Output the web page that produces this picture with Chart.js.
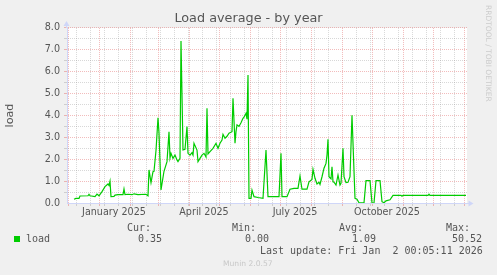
<!DOCTYPE html>
<html>
<head>
<meta charset="utf-8">
<script src="https://cdn.jsdelivr.net/npm/chart.js@4.4.1/dist/chart.umd.min.js"></script>
<style>
  html, body { margin: 0; padding: 0; background: #f0f0f0; }
  #wrap { position: relative; width: 497px; height: 275px; overflow: hidden; background: #f0f0f0; }
  #chart { position: absolute; left: 0; top: 0; }
  .t { position: absolute; font-family: "DejaVu Sans Mono", monospace; font-size: 10px; line-height: 10px; color: #555; white-space: pre; }
  .sq { position: absolute; left: 14px; top: 236px; width: 6px; height: 6px; background: #00cc00; }
  .munin { position: absolute; left: 223px; top: 259px; font-family: "DejaVu Sans", sans-serif; font-size: 7.6px; line-height: 10px; color: #c8c8c8; white-space: pre; }
  .rrd { position: absolute; left: 483px; top: 5px; writing-mode: vertical-rl; font-family: "DejaVu Sans", sans-serif; font-size: 7.5px; line-height: 10px; color: #cccccc; white-space: pre; }
</style>
</head>
<body>
<div id="wrap">
  <canvas id="chart" width="497" height="275"></canvas>
  <div class="rrd">RRDTOOL / TOBI OETIKER</div>
  <div class="sq"></div>
  <div class="t" style="left:26px;top:234px">load</div>
  <div class="t" style="left:127px;top:223px">Cur:</div>
  <div class="t" style="left:232px;top:223px">Min:</div>
  <div class="t" style="left:339px;top:223px">Avg:</div>
  <div class="t" style="left:446px;top:223px">Max:</div>
  <div class="t" style="left:138px;top:234px">0.35</div>
  <div class="t" style="left:245px;top:234px">0.00</div>
  <div class="t" style="left:352px;top:234px">1.09</div>
  <div class="t" style="left:452px;top:234px">50.52</div>
  <div class="t" style="left:260px;top:246px">Last update: Fri Jan  2 00:05:11 2026</div>
  <div class="munin">Munin 2.0.57</div>
</div>
<script>
// days counted from 1 Dec 2024
const days = [6, 8, 11, 12, 20, 21, 22, 27, 29, 31, 34, 37, 40, 41, 42, 43, 46, 47, 50, 55,
  56, 57, 60, 64, 66, 70, 78, 80, 81, 83, 85, 86, 88, 90, 91, 93, 96, 99, 100, 101,
  102, 103, 105, 107, 109, 110, 112, 113, 115, 117, 119, 120, 122, 124, 125, 126, 129, 130, 132, 134,
  136, 138, 139, 140, 142, 145, 148, 150, 152, 154, 155, 157, 159, 161, 164, 165, 167, 168, 169, 171,
  173, 175, 176, 178, 179, 180, 181, 183, 184, 186, 190, 195, 198, 200, 211, 213, 214, 219, 222, 226,
  230, 232, 234, 239, 241, 244, 245, 247, 249, 251, 252, 254, 256, 258, 259, 260, 261, 263, 264, 265,
  266, 268, 270, 272, 273, 275, 276, 278, 280, 282, 284, 287, 289, 291, 296, 298, 302, 304, 306, 308,
  312, 314, 316, 318, 322, 325, 333, 334, 335, 360, 361, 362, 398];
const load = [0.17, 0.21, 0.21, 0.32, 0.33, 0.40, 0.33, 0.29, 0.41, 0.33, 0.52, 0.75, 0.87, 0.80, 0.99, 0.29, 0.30, 0.36, 0.38, 0.38,
  0.64, 0.38, 0.40, 0.38, 0.42, 0.38, 0.40, 0.33, 1.51, 0.93, 1.43, 1.45, 2.40, 3.90, 3.20, 0.60, 1.45, 1.89, 2.57, 3.26,
  2.06, 2.27, 2.04, 2.19, 1.97, 1.89, 2.04, 7.40, 2.42, 2.45, 3.49, 2.27, 2.19, 2.30, 2.19, 2.73, 2.42, 1.89, 2.04, 2.19,
  2.27, 2.10, 4.33, 2.24, 2.35, 2.50, 2.73, 2.50, 2.73, 2.88, 3.14, 2.96, 3.05, 3.19, 3.26, 4.79, 2.73, 3.26, 3.57, 3.50,
  3.67, 3.87, 3.92, 4.10, 3.83, 5.85, 0.21, 0.21, 0.59, 0.29, 0.25, 0.21, 2.42, 0.29, 0.29, 2.27, 0.29, 0.29, 0.63, 0.67,
  0.67, 1.23, 0.63, 0.63, 0.97, 1.08, 1.54, 1.13, 0.87, 0.95, 0.85, 1.20, 1.59, 1.81, 2.19, 2.91, 1.20, 1.10, 1.66, 0.97,
  0.95, 0.82, 1.28, 0.82, 0.90, 2.50, 1.20, 0.93, 0.95, 1.20, 4.01, 0.21, 0.17, 0.01, 0.01, 1.02, 1.02, 0.00, 0.00, 1.02,
  1.02, 0.06, 0.01, 0.10, 0.15, 0.35, 0.35, 0.31, 0.35, 0.35, 0.40, 0.35, 0.35];

const monthStarts = [0, 31, 62, 90, 121, 151, 182, 212, 243, 274, 304, 335, 365, 396];
const monthLabels = ['January 2025', 'April 2025', 'July 2025', 'October 2025'];
const labelDays = [46, 136, 227, 319];   // mid-month, where rrdtool centres the labels

const RED = 'rgba(222,79,79,0.38)';
const GRAY = 'rgba(143,143,143,0.35)';
const AXIS = '#cfd6f8';
const FONTCOL = '#555';

// x tick list: month lines, fortnight lines (Mondays), label spots
const kind = {};
for (let d = 8; d < 399; d += 14) kind[d] = 'minor';
monthStarts.forEach(d => kind[d] = 'major');
labelDays.forEach((d, i) => kind[d] = 'label');
const xTicks = Object.keys(kind).map(Number).sort((a, b) => a - b);

const points = days.map((d, i) => ({ x: d, y: load[i] }));

Chart.defaults.font.family = 'DejaVu Sans';

// white plot canvas like rrdtool
const canvasBg = {
  id: 'canvasBg',
  beforeDraw(chart) {
    const c = chart.ctx, a = chart.chartArea;
    c.save();
    c.fillStyle = '#ffffff';
    c.fillRect(a.left, a.top, a.right - a.left, a.bottom - a.top);
    c.restore();
  }
};

const arrows = {
  id: 'arrows',
  afterDraw(chart) {
    const c = chart.ctx, a = chart.chartArea;
    c.save();
    c.strokeStyle = AXIS;
    c.fillStyle = AXIS;
    c.lineWidth = 1;
    c.beginPath();
    c.moveTo(a.left - 0.5, a.top); c.lineTo(a.left - 0.5, a.top - 3);
    c.moveTo(a.right, a.bottom + 0.5); c.lineTo(a.right + 2, a.bottom + 0.5);
    c.stroke();
    c.beginPath();
    c.moveTo(a.left - 0.5, a.top - 7); c.lineTo(a.left - 3.5, a.top - 2); c.lineTo(a.left + 2.5, a.top - 2);
    c.closePath(); c.fill();
    c.beginPath();
    c.moveTo(a.right + 6.5, a.bottom + 0.5); c.lineTo(a.right + 1.5, a.bottom - 2.5); c.lineTo(a.right + 1.5, a.bottom + 3.5);
    c.closePath(); c.fill();
    c.restore();
  }
};

new Chart(document.getElementById('chart'), {
  type: 'line',
  data: {
    datasets: [{
      label: 'load',
      data: points,
      borderColor: '#00cc00',
      borderWidth: 1.2,
      pointRadius: 0,
      tension: 0,
      fill: false
    }]
  },
  options: {
    responsive: false,
    animation: false,
    devicePixelRatio: 1,
    layout: { padding: 0 },
    plugins: {
      legend: { display: false },
      tooltip: { enabled: false },
      title: {
        display: true,
        text: 'Load average - by year',
        color: FONTCOL,
        font: { size: 12.8, weight: 'normal' },
        padding: { top: 11.3, bottom: 1.3 }
      }
    },
    scales: {
      x: {
        type: 'linear',
        min: -1,
        max: 399,
        afterBuildTicks: s => { s.ticks = xTicks.map(v => ({ value: v })); },
        afterFit: s => { s.height = 72; },
        ticks: {
          autoSkip: false,
          maxRotation: 0,
          minRotation: 0,
          padding: 1,
          color: FONTCOL,
          font: { size: 9.6 },
          callback: v => {
            const i = labelDays.indexOf(v);
            return i >= 0 ? monthLabels[i] : '';
          }
        },
        grid: {
          color: ctx => {
            const k = kind[ctx.tick.value];
            return k === 'major' ? RED : k === 'minor' ? GRAY : 'rgba(0,0,0,0)';
          },
          lineWidth: 1,
          tickLength: 3
        },
        border: { color: AXIS, dash: [1, 1] }
      },
      y: {
        min: 0,
        max: 8,
        afterFit: s => { s.width = 67; },
        ticks: {
          stepSize: 0.5,
          autoSkip: false,
          padding: 4,
          color: FONTCOL,
          font: { size: 9.6 },
          callback: v => Number.isInteger(v) ? v.toFixed(1) : ''
        },
        grid: {
          color: ctx => ctx.tick.value === 0 ? 'rgba(0,0,0,0)' : Number.isInteger(ctx.tick.value) ? RED : GRAY,
          lineWidth: 1,
          tickLength: 3
        },
        border: { color: AXIS, dash: [1, 1] },
        title: {
          display: true,
          text: 'load',
          color: FONTCOL,
          font: { size: 11.2 },
          padding: { top: 3.8, bottom: 0 }
        }
      },
      right: {
        position: 'right',
        afterFit: s => { s.width = 30; },
        grid: { display: false },
        ticks: { display: false },
        border: { display: false }
      }
    }
  },
  plugins: [canvasBg, arrows]
});
</script>
</body>
</html>
